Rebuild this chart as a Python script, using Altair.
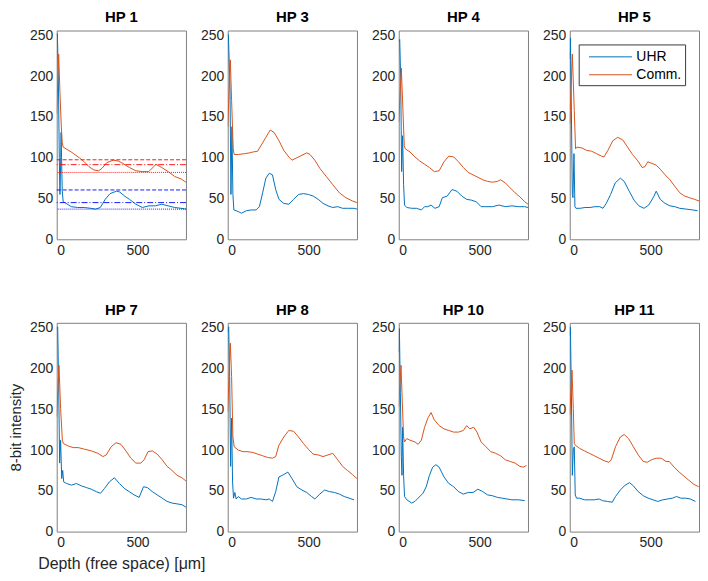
import altair as alt
import pandas as pd

SERIES = ["UHR", "Comm."]
COLORS = ["#0072BD", "#D95319"]

titles = ["HP 1", "HP 3", "HP 4", "HP 5", "HP 7", "HP 8", "HP 10", "HP 11"]

# ---- HP 1
hp1_uhr_d = [0, 4, 10, 16, 20, 24, 27, 30, 34, 40, 50, 90, 130, 170, 210, 240, 270, 300, 330, 370, 390, 420, 450, 490, 530, 570, 610, 650, 690, 730, 770, 800]
hp1_uhr_v = [250, 252, 200, 100, 55, 90, 131, 100, 60, 46, 45, 40, 39, 39, 38, 37, 39, 49, 56, 59, 58, 53, 49, 43, 39, 41, 41, 43, 41, 39, 38, 37]
hp1_com_d = [0, 12, 20, 28, 34, 40, 90, 140, 170, 200, 230, 260, 280, 310, 350, 380, 410, 450, 490, 530, 570, 600, 614, 650, 690, 730, 770, 800]
hp1_com_v = [154, 227, 180, 140, 119, 113, 107, 100, 95, 89, 85, 84, 87, 94, 97, 96, 93, 88, 84, 83, 83, 89, 92, 88, 83, 77, 74, 70]

# ---- HP 3
hp3_uhr_d = [0, 4, 14, 20, 26, 32, 38, 65, 85, 115, 145, 176, 196, 216, 236, 257, 277, 297, 317, 347, 378, 408, 438, 469, 499, 529, 560, 590, 620, 650, 681, 711, 741, 782, 800]
hp3_uhr_v = [250, 251, 186, 55, 138, 55, 36, 34, 32, 35, 36, 36, 40, 57, 75, 81, 79, 61, 49, 44, 43, 49, 55, 56, 55, 53, 49, 44, 41, 39, 40, 38, 38, 38, 37]
hp3_com_d = [0, 16, 24, 34, 40, 65, 105, 135, 155, 185, 206, 236, 263, 287, 317, 347, 378, 398, 428, 459, 489, 509, 539, 570, 610, 650, 691, 731, 772, 800]
hp3_com_v = [138, 220, 170, 111, 104, 104, 105, 106, 107, 108, 115, 125, 134, 131, 121, 109, 101, 97, 100, 103, 106, 104, 97, 87, 77, 67, 57, 51, 47, 45]

# ---- HP 4
hp4_uhr_d = [0, 6, 12, 18, 24, 30, 36, 50, 80, 110, 140, 160, 180, 200, 224, 250, 270, 300, 330, 360, 390, 420, 450, 480, 510, 540, 580, 620, 660, 700, 740, 780, 800]
hp4_uhr_v = [243, 245, 198, 83, 127, 67, 42, 39, 38, 38, 36, 40, 40, 42, 38, 40, 51, 53, 61, 59, 53, 49, 48, 46, 40, 40, 40, 42, 40, 41, 40, 40, 39]
hp4_com_d = [0, 16, 26, 34, 40, 70, 100, 130, 160, 190, 220, 250, 280, 310, 340, 370, 400, 430, 460, 490, 520, 550, 580, 610, 630, 660, 690, 720, 750, 780, 800]
hp4_com_v = [144, 210, 158, 115, 111, 107, 101, 96, 92, 88, 83, 84, 95, 102, 101, 95, 88, 82, 79, 76, 73, 71, 70, 71, 73, 69, 63, 57, 52, 46, 43]

# ---- HP 5
hp5_uhr_d = [0, 4, 10, 16, 20, 26, 32, 38, 65, 95, 125, 156, 186, 206, 226, 253, 281, 313, 337, 368, 398, 428, 459, 489, 519, 535, 560, 590, 620, 650, 681, 721, 761, 792]
hp5_uhr_v = [221, 247, 158, 55, 51, 105, 40, 38, 38, 39, 39, 40, 40, 38, 44, 55, 69, 75, 71, 59, 48, 41, 38, 42, 52, 59, 49, 44, 41, 40, 38, 37, 36, 35]
hp5_com_d = [0, 16, 28, 36, 44, 75, 105, 135, 166, 196, 212, 236, 267, 297, 327, 358, 388, 418, 448, 465, 483, 509, 535, 560, 590, 620, 650, 681, 711, 741, 772, 800]
hp5_com_v = [142, 227, 158, 111, 113, 112, 109, 108, 105, 102, 101, 109, 121, 125, 122, 113, 104, 97, 88, 89, 95, 93, 91, 86, 79, 73, 65, 57, 53, 51, 49, 47]

# ---- HP 7
hp7_uhr_d = [0, 6, 12, 18, 24, 31, 37, 43, 61, 92, 122, 153, 184, 214, 245, 271, 296, 326, 357, 388, 418, 449, 479, 510, 537, 561, 592, 622, 653, 683, 714, 745, 775, 800]
hp7_uhr_v = [249, 251, 179, 84, 112, 65, 75, 61, 59, 57, 59, 56, 54, 52, 49, 47, 53, 61, 66, 59, 53, 49, 45, 42, 55, 54, 49, 45, 41, 37, 35, 34, 33, 30]
hp7_com_d = [0, 14, 24, 35, 41, 71, 102, 133, 173, 214, 255, 286, 306, 337, 367, 398, 428, 459, 490, 520, 541, 565, 592, 622, 653, 683, 714, 745, 775, 800]
hp7_com_v = [141, 204, 151, 112, 108, 105, 103, 103, 101, 99, 96, 92, 94, 104, 109, 107, 99, 90, 84, 84, 88, 98, 99, 95, 88, 80, 75, 69, 66, 62]

# ---- HP 8
hp8_uhr_d = [0, 6, 12, 18, 24, 30, 36, 44, 52, 65, 85, 115, 145, 176, 206, 236, 257, 277, 297, 317, 347, 372, 398, 428, 459, 489, 519, 539, 570, 600, 630, 661, 691, 721, 751, 782]
hp8_uhr_v = [245, 251, 190, 80, 139, 61, 41, 48, 40, 43, 40, 40, 42, 40, 40, 39, 40, 37, 49, 67, 70, 73, 65, 55, 51, 48, 43, 40, 46, 51, 49, 48, 46, 43, 41, 39]
hp8_com_d = [0, 16, 24, 32, 40, 65, 95, 125, 156, 186, 216, 246, 277, 297, 317, 347, 378, 408, 438, 469, 499, 529, 560, 590, 620, 650, 681, 711, 741, 772, 800]
hp8_com_v = [147, 231, 190, 116, 104, 100, 98, 98, 97, 95, 93, 91, 90, 92, 106, 116, 124, 123, 116, 108, 101, 95, 94, 92, 94, 96, 88, 80, 75, 70, 65]

# ---- HP 10
hp10_uhr_d = [0, 4, 10, 16, 20, 24, 30, 36, 50, 80, 100, 120, 150, 170, 190, 210, 230, 250, 280, 310, 340, 370, 400, 430, 460, 490, 520, 550, 580, 610, 640, 670, 700, 740, 780]
hp10_uhr_v = [220, 249, 171, 92, 69, 128, 69, 43, 39, 35, 37, 41, 47, 55, 69, 79, 82, 79, 67, 59, 55, 49, 46, 48, 48, 52, 49, 45, 44, 42, 41, 40, 39, 39, 38]
hp10_com_d = [0, 14, 22, 30, 36, 50, 70, 100, 120, 140, 160, 180, 200, 220, 250, 280, 310, 340, 370, 400, 420, 440, 464, 484, 510, 540, 570, 600, 630, 660, 690, 720, 750, 770, 790]
hp10_com_v = [153, 204, 159, 116, 110, 114, 112, 110, 107, 112, 128, 139, 146, 137, 130, 126, 124, 122, 122, 124, 130, 126, 128, 122, 110, 104, 98, 96, 93, 88, 86, 84, 80, 79, 81]

# ---- HP 11
hp11_uhr_d = [0, 4, 10, 16, 22, 28, 34, 42, 61, 91, 121, 152, 182, 202, 232, 263, 283, 313, 343, 370, 394, 424, 455, 485, 515, 545, 576, 606, 636, 661, 687, 717, 747, 778]
hp11_uhr_v = [241, 251, 171, 69, 100, 104, 45, 41, 41, 39, 39, 39, 40, 38, 37, 36, 43, 51, 57, 60, 56, 49, 44, 41, 39, 37, 39, 40, 41, 43, 41, 41, 40, 37]
hp11_com_d = [0, 14, 22, 28, 34, 61, 91, 121, 152, 182, 212, 242, 257, 283, 313, 337, 364, 394, 424, 455, 479, 505, 535, 566, 596, 616, 646, 677, 707, 737, 768, 798]
hp11_com_v = [143, 198, 151, 108, 106, 102, 99, 96, 93, 90, 87, 85, 88, 104, 116, 119, 114, 104, 94, 86, 85, 88, 90, 90, 86, 86, 79, 73, 68, 63, 58, 55]

# HP 1 reference levels
red_levels = [97.5, 91.5, 82]
blue_levels = [60.5, 45, 37]
level_styles = ["dashed", "dashdot", "dotted"]

x_ticks = [0, 500]
y_ticks = [0, 50, 100, 150, 200, 250]
X_MAX = 800
Y_MAX = 256

FONT = "Liberation Sans"
W, H = 130, 210

series_data = [
    (hp1_uhr_d, hp1_uhr_v, hp1_com_d, hp1_com_v),
    (hp3_uhr_d, hp3_uhr_v, hp3_com_d, hp3_com_v),
    (hp4_uhr_d, hp4_uhr_v, hp4_com_d, hp4_com_v),
    (hp5_uhr_d, hp5_uhr_v, hp5_com_d, hp5_com_v),
    (hp7_uhr_d, hp7_uhr_v, hp7_com_d, hp7_com_v),
    (hp8_uhr_d, hp8_uhr_v, hp8_com_d, hp8_com_v),
    (hp10_uhr_d, hp10_uhr_v, hp10_com_d, hp10_com_v),
    (hp11_uhr_d, hp11_uhr_v, hp11_com_d, hp11_com_v),
]


def make_panel(i):
    ud, uv, cd, cv = series_data[i]
    rows = []
    for k, (d, v) in enumerate(zip(ud, uv)):
        rows.append({"depth": d, "value": v, "series": "UHR", "idx": k})
    for k, (d, v) in enumerate(zip(cd, cv)):
        rows.append({"depth": d, "value": v, "series": "Comm.", "idx": k})
    df = pd.DataFrame(rows)

    if i == 4:
        xaxis = alt.Axis(values=x_ticks, title="Depth (free space) [μm]", titlePadding=6,
                         titleFontSize=16)
        yaxis = alt.Axis(values=y_ticks, title="8-bit intensity", titlePadding=6)
    else:
        xaxis = alt.Axis(values=x_ticks, title=None)
        yaxis = alt.Axis(values=y_ticks, title=None)

    if i == 3:
        legend = alt.Legend(orient="top-right", title=None, symbolType="M-2.4,0H2.4",
                            symbolSize=324, symbolStrokeWidth=1, symbolOffset=19.5,
                            offset=14, strokeColor="#3a3a3a", fillColor="white", padding=3,
                            labelFontSize=14, labelFont=FONT, labelColor="#000000",
                            rowPadding=1, labelOffset=16.5)
    else:
        legend = None

    xenc = alt.X("depth:Q", scale=alt.Scale(domain=[0, X_MAX], nice=False), axis=xaxis)
    yenc = alt.Y("value:Q", scale=alt.Scale(domain=[0, Y_MAX], nice=False), axis=yaxis)

    line = alt.Chart(df).mark_line(strokeWidth=1, clip=True).encode(
        x=xenc, y=yenc,
        color=alt.Color("series:N", scale=alt.Scale(domain=SERIES, range=COLORS), legend=legend),
        order=alt.Order("idx:Q"),
    )
    layers = [line]
    if i == 0:
        dash_scale = alt.Scale(domain=level_styles, range=[[4, 2], [6, 2, 1, 2], [1, 1]])
        red_df = pd.DataFrame({"level": red_levels, "style": level_styles})
        blue_df = pd.DataFrame({"level": blue_levels, "style": level_styles})
        for ldf, col in [(red_df, "#FF0000"), (blue_df, "#0000FF")]:
            layers.append(
                alt.Chart(ldf).mark_rule(color=col, strokeWidth=0.9).encode(
                    y=alt.Y("level:Q", scale=alt.Scale(domain=[0, Y_MAX], nice=False)),
                    strokeDash=alt.StrokeDash("style:N", scale=dash_scale, legend=None),
                )
            )
    return alt.layer(*layers).properties(
        width=W, height=H,
        title=alt.TitleParams(titles[i], fontSize=15, fontWeight="bold", font=FONT,
                              color="#000000", offset=3),
    )


panels = [make_panel(i) for i in range(8)]

chart = alt.concat(*panels, columns=4, spacing={"row": 84, "column": 42}, bounds="flush").resolve_scale(
    color="independent", strokeDash="independent"
).properties(
    padding={"left": 0, "top": 0, "right": 0, "bottom": 0}, background="white"
).configure_view(
    stroke="#808080", strokeWidth=1
).configure_axis(
    domain=False, grid=False, ticks=False,
    labelFont=FONT, labelFontSize=14, labelColor="#262626", labelPadding=4,
    titleFont=FONT, titleFontSize=15, titleFontWeight="normal", titleColor="#262626",
)

chart.save("out.html", embed_options={"renderer": "svg", "actions": False})
